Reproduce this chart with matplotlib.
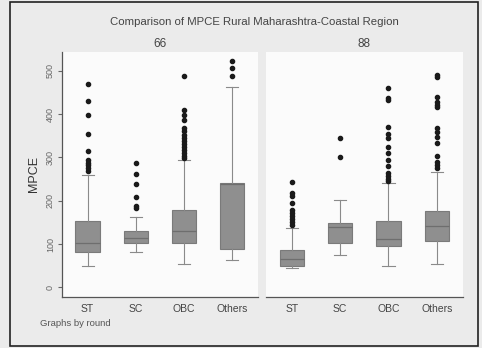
import matplotlib
matplotlib.use('Agg')
import matplotlib.pyplot as plt

plt.rcParams['font.family'] = ['Liberation Sans', 'DejaVu Sans']

categories = ['ST', 'SC', 'OBC', 'Others']
rounds = ['66', '88']

# box statistics per round: whislo, q1, median, q3, whishi
r66_whislo = [49, 82, 54, 63]
r66_q1 = [82, 102, 102, 88]
r66_med = [103, 113, 131, 238]
r66_q3 = [154, 130, 178, 241]
r66_whishi = [259, 163, 294, 462]
r66_fliers = [
    [268, 275, 282, 288, 295, 315, 355, 398, 430, 470],
    [184, 188, 208, 238, 262, 286],
    [298, 304, 310, 318, 324, 330, 338, 345, 352, 360, 368, 386, 398, 410, 488],
    [488, 505, 523],
]

r88_whislo = [45, 75, 49, 54]
r88_q1 = [50, 103, 95, 108]
r88_med = [65, 140, 111, 141]
r88_q3 = [86, 148, 153, 176]
r88_whishi = [138, 202, 240, 267]
r88_fliers = [
    [144, 150, 158, 165, 172, 178, 194, 211, 218, 244],
    [300, 345],
    [245, 250, 258, 265, 280, 295, 310, 325, 345, 355, 370, 432, 437, 460],
    [275, 282, 290, 303, 332, 348, 359, 367, 417, 421, 428, 440, 485, 490],
]

panels = [
    (r66_whislo, r66_q1, r66_med, r66_q3, r66_whishi, r66_fliers),
    (r88_whislo, r88_q1, r88_med, r88_q3, r88_whishi, r88_fliers),
]

W, H = 482, 348
fig = plt.figure(figsize=(W / 100, H / 100), dpi=100)
fig.patch.set_facecolor('#ebebeb')

# outer frame
fig.add_artist(plt.Rectangle((10 / W, 1 - 346 / H), 468 / W, 344 / H,
                             transform=fig.transFigure, fill=False,
                             edgecolor='#222222', linewidth=1.2))

ax_pos = [(62, 258), (266, 463)]
top, bottom = 52, 297
for i, (x0, x1) in enumerate(ax_pos):
    ax = fig.add_axes([x0 / W, 1 - bottom / H, (x1 - x0) / W, (bottom - top) / H])
    ax.set_facecolor('#fbfbfb')
    wlo, q1, med, q3, whi, fl = panels[i]
    stats = []
    for k in range(len(categories)):
        stats.append(dict(whislo=wlo[k], q1=q1[k], med=med[k], q3=q3[k],
                          whishi=whi[k], fliers=fl[k], label=categories[k]))
    ax.bxp(stats, positions=[1, 2, 3, 4], widths=0.5, patch_artist=True,
           boxprops=dict(facecolor='#8f8f8f', edgecolor='#7a7a7a', linewidth=0.8),
           medianprops=dict(color='#6e6e6e', linewidth=0.9),
           whiskerprops=dict(color='#8a8a8a', linewidth=0.8),
           capprops=dict(color='#8a8a8a', linewidth=0.8),
           capwidths=0.25,
           flierprops=dict(marker='o', markerfacecolor='#1a1a1a',
                           markeredgecolor='#1a1a1a', markersize=3.0))
    ax.set_xlim(0.47, 4.54)
    ax.set_ylim(-22, 543)
    for s in ['top', 'right']:
        ax.spines[s].set_visible(False)
    ax.spines['bottom'].set_color('#555555')
    ax.spines['bottom'].set_linewidth(0.9)
    ax.tick_params(axis='x', length=0, labelsize=7.5, colors='#444444', pad=5)
    if i == 0:
        ax.spines['left'].set_color('#555555')
        ax.spines['left'].set_linewidth(0.9)
        ax.set_yticks([0, 100, 200, 300, 400, 500])
        ax.tick_params(axis='y', length=3, labelsize=6.5, colors='#666666',
                       labelrotation=90, pad=2)
        for t in ax.get_yticklabels():
            t.set_va('center')
        ax.set_ylabel('MPCE', fontsize=9, color='#333333', labelpad=4)
    else:
        ax.spines['left'].set_visible(False)
        ax.set_yticks([])
    fig.text((x0 + x1) / 2 / W, 1 - 44 / H, rounds[i], ha='center', va='center',
             fontsize=8.5, color='#444444')

fig.text(254 / W, 1 - 22 / H, 'Comparison of MPCE Rural Maharashtra-Coastal Region',
         ha='center', va='center', fontsize=8.2, color='#444444')
fig.text(40 / W, 1 - 323 / H, 'Graphs by round', ha='left', va='center',
         fontsize=6.8, color='#555555')

fig.savefig('out.png', dpi=100)
